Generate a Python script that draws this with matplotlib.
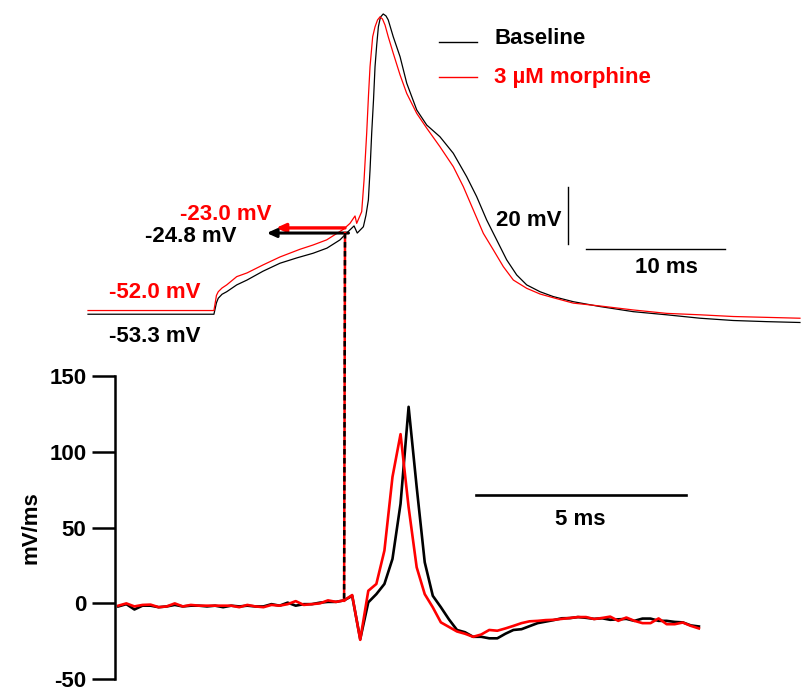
import numpy as np
import matplotlib
matplotlib.use("Agg")
import matplotlib.pyplot as plt
from matplotlib.lines import Line2D

plt.rcParams['font.family'] = ['Liberation Sans', 'DejaVu Sans']
plt.rcParams['font.weight'] = 'bold'
plt.rcParams['axes.unicode_minus'] = False

# --- membrane potential (time in ms, voltage in mV) ---
t_base = [0.00, 9.06, 9.24, 9.37, 9.64, 9.98, 10.70, 11.44, 12.59, 13.81, 15.04,
          16.19, 17.19, 18.13, 18.61, 19.14, 19.37, 19.81, 20.00, 20.17, 20.29,
          20.41, 20.54, 20.65, 20.77, 20.89, 21.04, 21.24, 21.44, 21.60, 21.96,
          22.45, 22.93, 23.65, 24.37, 25.32, 26.28, 27.24, 27.96, 28.68, 29.40,
          30.12, 30.84, 31.56, 32.52, 33.47, 34.91, 36.83, 39.23, 41.63, 44.03,
          46.42, 48.83, 51.22]
v_base = [-53.3, -53.3, -49.3, -47.7, -46.3, -45.4, -43.0, -41.3, -38.2, -35.4, -33.5,
          -31.9, -30.1, -27.2, -24.8, -22.3, -24.8, -22.6, -18.5, -13.2, -2.7,
          10.3, 21.9, 33.6, 41.2, 47.6, 51.0, 52.1, 51.4, 50.0, 44.1,
          37.1, 27.8, 18.4, 13.1, 9.0, 3.2, -5.0, -12.0, -20.2, -27.2,
          -34.2, -39.5, -43.0, -45.4, -47.1, -48.9, -50.6, -52.4, -53.5, -54.7,
          -55.5, -55.9, -56.2]

t_morph = [0.00, 9.06, 9.24, 9.37, 9.64, 9.98, 10.70, 11.44, 12.59, 13.81, 15.25,
           16.19, 17.17, 18.37, 18.85, 19.21, 19.33, 19.69, 19.86, 20.05, 20.18,
           20.29, 20.48, 20.65, 20.83, 21.01, 21.19, 21.37, 21.60, 21.96, 22.45,
           22.93, 23.65, 24.37, 25.32, 26.28, 27.00, 27.72, 28.44, 29.16, 29.88,
           30.60, 31.56, 32.52, 33.47, 34.91, 36.83, 39.23, 41.63, 44.03, 46.42,
           48.83, 51.22]
v_morph = [-52.0, -52.0, -46.7, -45.4, -44.1, -43.0, -40.1, -38.8, -36.0, -33.2, -30.5,
           -29.0, -27.2, -23.5, -21.4, -18.8, -21.4, -17.3, -6.2, 10.3, 23.6,
           33.6, 44.1, 47.6, 50.0, 51.1, 50.3, 48.2, 44.1, 38.3, 30.7,
           24.2, 17.2, 12.0, 5.5, -1.5, -8.5, -16.7, -24.9, -30.7, -36.6,
           -41.3, -44.2, -46.2, -47.5, -49.4, -50.4, -51.8, -53.0, -53.5, -54.1,
           -54.4, -54.7]

rest_base, rest_morph = -53.3, -52.0
thr_base, thr_morph = -24.8, -23.0
t_thr = 18.49      # threshold time in the voltage trace (ms)

# --- dV/dt (mV/ms), one sample every dt ms ---
dt = 0.192
dvdt_base = [-2.0, -0.5, -4.0, -1.5, -1.5, -2.5, -2.0, -1.0, -2.0, -1.5,
             -1.5, -2.0, -1.5, -2.5, -1.5, -2.0, -1.5, -2.0, -2.0, -0.5,
             -1.5, 0.5, -1.5, -0.5, -0.5, 0.5, 1.0, 1.0, 2.0, 5.0,
             -23.5, 0.7, 6.1, 12.8, 29.3, 65.6, 129.5, 76.7, 27.1, 5.0,
             -2.5, -10.5, -17.5, -19.0, -22.0, -22.0, -23.0, -23.0, -20.0, -17.5,
             -17.0, -15.0, -13.0, -12.0, -11.0, -9.8, -9.7, -9.0, -9.5, -10.2,
             -9.8, -10.8, -10.5, -10.2, -11.5, -10.0, -10.0, -11.5, -11.5, -12.2,
             -12.5, -14.5, -15.2]
dvdt_morph = [-1.5, 0.0, -2.0, -1.0, -0.8, -2.5, -2.0, 0.0, -2.0, -1.0,
              -1.5, -1.5, -1.5, -1.5, -1.5, -2.5, -1.0, -2.0, -2.5, -1.0,
              -1.5, -0.5, 1.5, -1.0, -0.5, 0.0, 2.0, 1.0, 2.0, 5.5,
              -24.0, 8.3, 12.8, 34.8, 83.3, 111.5, 63.4, 23.8, 6.1, -2.6,
              -12.5, -15.5, -18.5, -20.0, -22.0, -20.5, -17.5, -18.0, -16.5, -14.8,
              -13.0, -11.8, -11.5, -11.0, -10.8, -10.2, -9.6, -9.0, -9.0, -10.3,
              -9.6, -8.7, -11.5, -9.3, -11.5, -13.0, -13.0, -9.9, -13.7, -13.7,
              -12.6, -14.8, -16.5]
k_thr = 28         # threshold sample in dV/dt trace
yticks = [-50, 0, 50, 100, 150]

W, H = 809, 693
fig = plt.figure(figsize=(W / 100, H / 100), dpi=100)


def rect(x0, y0, x1, y1):
    # pixel box (y measured from the top) -> figure fraction
    return [x0 / W, 1 - y1 / H, (x1 - x0) / W, (y1 - y0) / H]


def fp(x, y):
    return x / W, 1 - y / H


FS = 16

# ---------------- top: voltage traces ----------------
ax_v = fig.add_axes(rect(88, 0, 802, 345))
ax_v.set_xlim(0, 714 / 13.9)
ax_v.set_ylim(-64.1, 57.0)
ax_v.axis('off')
ax_v.plot(t_base, v_base, color='black', lw=0.9, clip_on=False)
ax_v.plot(t_morph, v_morph, color='red', lw=0.9, clip_on=False)

# threshold arrows
ax_v.annotate('', xy=(13.53, thr_morph), xytext=(t_thr, thr_morph),
              arrowprops=dict(arrowstyle='-|>,head_length=0.55,head_width=0.25',
                              color='red', lw=2.4, shrinkA=0, shrinkB=0))
ax_v.annotate('', xy=(12.86, thr_base), xytext=(t_thr + 0.25, thr_base),
              arrowprops=dict(arrowstyle='-|>,head_length=0.55,head_width=0.25',
                              color='black', lw=2.2, shrinkA=0, shrinkB=0))

# scale bars: 20 mV and 10 ms
ax_v.plot([34.51, 34.51], [-28.6, -8.6], color='black', lw=1.0, clip_on=False)
ax_v.plot([35.83, 45.83], [-30.5, -30.5], color='black', lw=1.0, clip_on=False)

fig.text(*fp(180, 220), f'{thr_morph:.1f} mV', color='red', fontsize=FS, fontweight='bold', va='baseline')
fig.text(*fp(145, 241.5), f'{thr_base:.1f} mV', color='black', fontsize=FS, fontweight='bold', va='baseline')
fig.text(*fp(109, 298), f'{rest_morph:.1f} mV', color='red', fontsize=FS, fontweight='bold', va='baseline')
fig.text(*fp(109, 342.5), f'{rest_base:.1f} mV', color='black', fontsize=FS, fontweight='bold', va='baseline')
fig.text(*fp(496, 226), '20 mV', color='black', fontsize=FS, fontweight='bold', va='baseline')
fig.text(*fp(635, 273), '10 ms', color='black', fontsize=FS, fontweight='bold', va='baseline')

# legend
fig.add_artist(Line2D([439 / W, 477 / W], [1 - 41.7 / H] * 2, color='black', lw=1.0))
fig.add_artist(Line2D([439 / W, 477 / W], [1 - 76.7 / H] * 2, color='red', lw=1.0))
fig.text(*fp(494, 44), 'Baseline', color='black', fontsize=FS, fontweight='bold', va='baseline')
fig.text(*fp(494, 82.5), '3 µM morphine', color='red', fontsize=FS, fontweight='bold', va='baseline')

# ---------------- bottom: dV/dt ----------------
ax_d = fig.add_axes(rect(115, 375.7, 805, 679.3))
ax_d.set_xlim((115 - 118.3) / 42, (805 - 118.3) / 42)
ax_d.set_ylim(-50, 150)
td = np.arange(len(dvdt_base)) * dt
ax_d.plot(td, dvdt_base, color='black', lw=1.9, clip_on=False)
ax_d.plot(td, dvdt_morph, color='red', lw=1.9, clip_on=False)

for side in ['top', 'right', 'bottom']:
    ax_d.spines[side].set_visible(False)
ax_d.spines['left'].set_linewidth(1.8)
ax_d.set_xticks([])
ax_d.set_yticks(yticks)
ax_d.set_yticklabels([str(v) for v in yticks])
ax_d.tick_params(axis='y', length=16.5, width=1.8, pad=4, labelsize=FS)
for lab in ax_d.get_yticklabels():
    lab.set_fontweight('bold')
ax_d.set_ylabel('mV/ms', fontsize=FS, fontweight='bold')
ax_d.yaxis.set_label_coords(-0.106, 0.5)

# 5 ms scale bar
ax_d.plot([8.52, 13.52], [71.5, 71.5], color='black', lw=1.9, clip_on=False)
fig.text(*fp(555, 525), '5 ms', color='black', fontsize=FS, fontweight='bold', va='baseline')

# dotted line linking threshold in both panels (drawn in figure coords)
to_fig = fig.transFigure.inverted()
p_top = to_fig.transform(ax_v.transData.transform((t_thr, thr_base)))
p_bot = to_fig.transform(ax_d.transData.transform((k_thr * dt, 1.7)))
xs, ys = [p_top[0], p_bot[0]], [p_top[1], p_bot[1]]
fig.add_artist(Line2D(xs, ys, color='red', lw=1.8, transform=fig.transFigure))
fig.add_artist(Line2D(xs, ys, color='black', lw=1.8, dashes=(2.2, 1.4),
                      transform=fig.transFigure))

fig.savefig('out.png', dpi=100)
